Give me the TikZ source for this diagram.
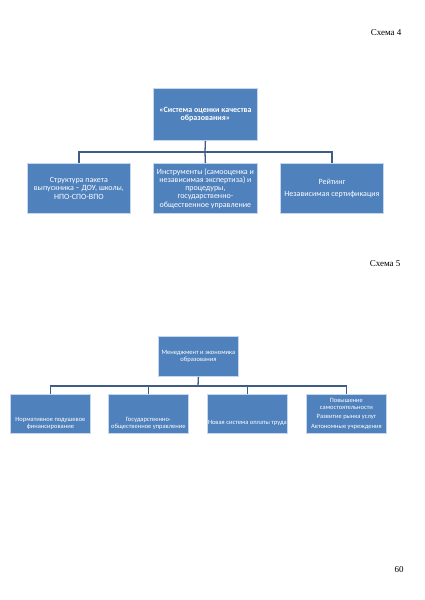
\documentclass[tikz,border=0pt]{standalone}
\usepackage{fontspec}
\setmainfont{Liberation Serif}
\newfontfamily\calfont{Carlito}
\definecolor{boxblue}{HTML}{4F81BD}
\definecolor{boxedge}{HTML}{C6D6EC}
\definecolor{linkc}{HTML}{3F5D84}
\tikzset{
  bluebox/.style={rectangle, fill=boxblue, draw=boxedge, line width=0.8pt, inner sep=1pt, align=center, text=white, anchor=north west},
  bigtxt/.style={font=\calfont\fontsize{8}{8.2}\selectfont},
  topfont/.style={font=\calfont\bfseries\fontsize{8}{8.2}\selectfont},
  smalltxt/.style={font=\calfont\fontsize{6.5}{7}\selectfont},
  link/.style={draw=linkc, line width=1.3pt},
  caption/.style={font=\fontsize{9}{10}\selectfont, anchor=east}
}
\begin{document}
\begin{tikzpicture}[x=1pt,y=-1pt]
\useasboundingbox[fill=white] (0,0) rectangle (424,600);
% Scheme 4
\node[caption] (cap4) at (405,33) {Схема 4};
\node[bluebox, topfont, minimum width=104pt, minimum height=52pt] (t4) at (153,88) {«Система оценки качества\\образования»};
\node[bluebox, bigtxt, minimum width=103pt, minimum height=50pt] (a4) at (27,163) {Структура пакета\\выпускника – ДОУ, школы,\\НПО-СПО-ВПО};
\node[bluebox, bigtxt, minimum width=104pt, minimum height=50pt, inner sep=0pt] (b4) at (153,163) {Инструменты (самооценка и\\независимая экспертиза) и\\процедуры,\\государственно-\\общественное управление};
\node[bluebox, bigtxt, minimum width=103pt, minimum height=50pt, inner sep=0pt] (c4) at (280,163) {Рейтинг\\[4pt]Независимая сертификация};
\coordinate (h4) at (205,152);
\draw[link] (t4.south) -- (h4);
\draw[link] (a4.north) |- (h4) -| (c4.north);
\draw[link] (h4) -- (b4.north);
% Scheme 5
\node[caption] (cap5) at (404,264) {Схема 5};
\node[bluebox, smalltxt, minimum width=80pt, minimum height=40pt] (t5) at (158,336) {Менеджмент и экономика\\образования};
\node[bluebox, minimum width=80pt, minimum height=39pt] (a5) at (10,394) {};
\node[bluebox, minimum width=80pt, minimum height=39pt] (b5) at (108,394) {};
\node[bluebox, minimum width=80pt, minimum height=39pt] (c5) at (207,394) {};
\node[bluebox, smalltxt, minimum width=80pt, minimum height=39pt, inner sep=0pt] (d5) at (306,394) {Повышение\\самостоятельности\\[2pt]Развитие рынка услуг\\[3pt]Автономные учреждения};
\node[smalltxt, text=white, align=center, inner sep=0pt] (a5t) at ([yshift=-9.5pt]a5.center) {Нормативное подушевое\\финансирование};
\node[smalltxt, text=white, align=center, inner sep=0pt] (b5t) at ([yshift=-9.5pt]b5.center) {Государственно-\\общественное управление};
\node[smalltxt, text=white, align=center, inner sep=0pt] (c5t) at ([yshift=-9.5pt]c5.center) {Новая система оплаты труда};
\coordinate (h5) at (198,386);
\draw[link] (t5.south) -- (h5);
\draw[link] (a5.north) |- (h5) -| (d5.north);
\draw[link] (b5.north) -- (b5.north |- h5);
\draw[link] (c5.north) -- (c5.north |- h5);
% page number
\node[font=\fontsize{9}{10}\selectfont] (pg) at (399,570) {60};
\end{tikzpicture}
\end{document}
